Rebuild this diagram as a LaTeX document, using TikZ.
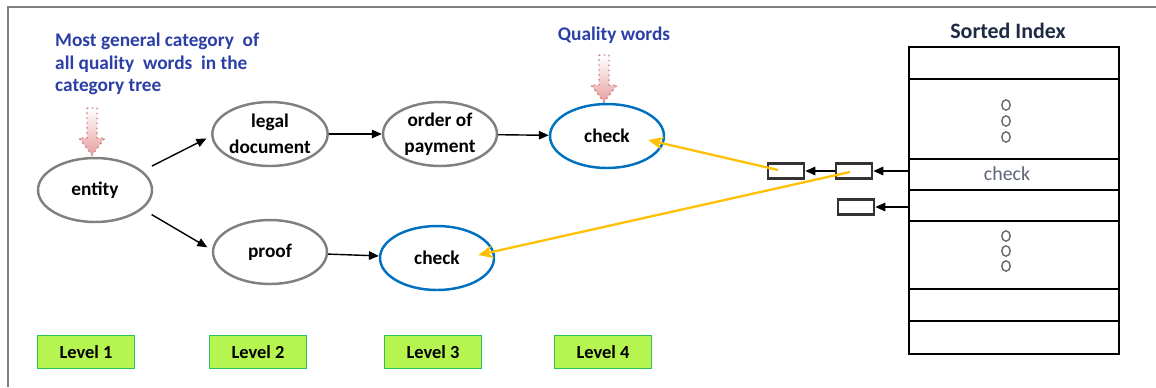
\documentclass[tikz,border=0pt]{standalone}
\usepackage{fontspec}
\setmainfont{Carlito}
\usepackage{tikz}
\usetikzlibrary{shapes.geometric, arrows.meta, calc, positioning}
\definecolor{noteblue}{HTML}{2B3FA6}
\definecolor{ellgray}{HTML}{808080}
\definecolor{qblue}{HTML}{0070C0}
\definecolor{qyellow}{HTML}{FFC000}
\definecolor{lvlfill}{HTML}{B6F44F}
\definecolor{lvledge}{HTML}{2DBF5A}
\definecolor{pinkfill}{HTML}{E8A0A0}
\definecolor{pinkedge}{HTML}{D07878}
\definecolor{idxtext}{HTML}{1F2A44}
\definecolor{rowtext}{HTML}{5C6478}
\tikzstyle{link} = [line width=0.8pt,-{Triangle[length=0.2cm,width=0.17cm]}]
\tikzstyle{ylink} = [line width=1.3pt,draw=qyellow,-{Stealth[length=0.3cm,width=0.26cm]}]
\newcommand{\hintarrow}[2]{%
  \draw[dotted, line width=0.8pt, draw=pinkedge, top color=white, bottom color=pinkfill]
    (#1-5,#2) -- (#1+5,#2) -- (#1+5,#2+30) -- (#1+13,#2+30) -- (#1,#2+47)
    -- (#1-13,#2+30) -- (#1-5,#2+30) -- cycle;}

\begin{document}
\begin{tikzpicture}[x=0.02cm, y=-0.02cm,
    cat/.style={ellipse, draw=ellgray, line width=1.4pt, minimum width=2.28cm,
      minimum height=1.28cm, inner sep=0pt, align=center,
      font=\bfseries\fontsize{11}{14.5}\selectfont},
    qual/.style={cat, draw=qblue},
    lvl/.style={draw=lvledge, fill=lvlfill, line width=0.8pt, minimum width=1.94cm,
      minimum height=0.66cm, font=\bfseries\fontsize{10.5}{12}\selectfont},
    ptr/.style={draw=black!80, line width=1.5pt, minimum width=0.72cm,
      minimum height=0.3cm, inner sep=0pt},
    note/.style={text=noteblue, font=\bfseries\fontsize{11}{12.8}\selectfont}]
\useasboundingbox (0,0) rectangle (1156,387);
% frame
\draw[ellgray, line width=1pt] (8,387) -- (8,7) -- (1156,7);

% notes
\node[note, align=left, anchor=west] (gennote) at (49,64)
  {Most general category \ of\\all quality \ words \ in the\\category tree};
\node[note] (qnote) at (614,35) {Quality words};
\hintarrow{92}{108}
\hintarrow{604}{55}

% category tree
\node[cat] (entity) at (95,190) {entity};
\node[cat] (legal) at (270,134) {legal\\document};
\node[cat] (order) at (440,134) {order of\\payment};
\node[qual] (chk4) at (607,136) {check};
\node[cat] (proof) at (270,252) {proof};
\node[qual] (chk3) at (437,258) {check};

\draw[link, shorten <=6, shorten >=3] (entity.22) -- (legal.182);
\draw[link, shorten <=6, shorten >=3] (entity.-22) -- (proof.178);
\draw[link] (legal) -- (order);
\draw[link] (order) -- (chk4);
\draw[link] (proof) -- (chk3);

% sorted index
\node[font=\bfseries\fontsize{12.5}{14}\selectfont, text=idxtext] (idxtitle) at (1008,31) {Sorted Index};
\node[draw, line width=1.3pt, minimum width=4.2cm, minimum height=6.14cm, inner sep=0pt,
  anchor=north west] (idx) at (908,46) {};
\foreach \y in {79,159,190,221,289,321}
  \draw[line width=0.8pt] (908,\y) -- (1118,\y);
\foreach \y in {105,121,137,236,251,266}
  \draw[gray!80!black, line width=0.8pt] (1006,\y) ellipse (4.2 and 5.2);
\node[text=rowtext, font=\fontsize{11.3}{13}\selectfont] (rowchk) at (1007,174) {check};

% pointers
\node[ptr] (box1) at (786,171) {};
\node[ptr] (box2) at (854,171) {};
\node[ptr] (box3) at (856,207) {};
\coordinate (ent1) at (908,171);
\coordinate (ent2) at (908,207);
\draw[link] (ent1) -- (box2);
\draw[link] (box2) -- (box1);
\draw[link] (ent2) -- (box3);

\coordinate (y1) at (778,170);
\coordinate (y2) at (850,172);
\draw[ylink] (y1) -- ($(chk4.east)+(-17,4)$);
\draw[ylink] (y2) -- ($(chk3.east)+(-17,-3)$);

% levels
\node[lvl] (lev1) at (86,352) {Level 1};
\node[lvl] (lev2) at (258,352) {Level 2};
\node[lvl] (lev3) at (433,352) {Level 3};
\node[lvl] (lev4) at (603,352) {Level 4};
\end{tikzpicture}
\end{document}
